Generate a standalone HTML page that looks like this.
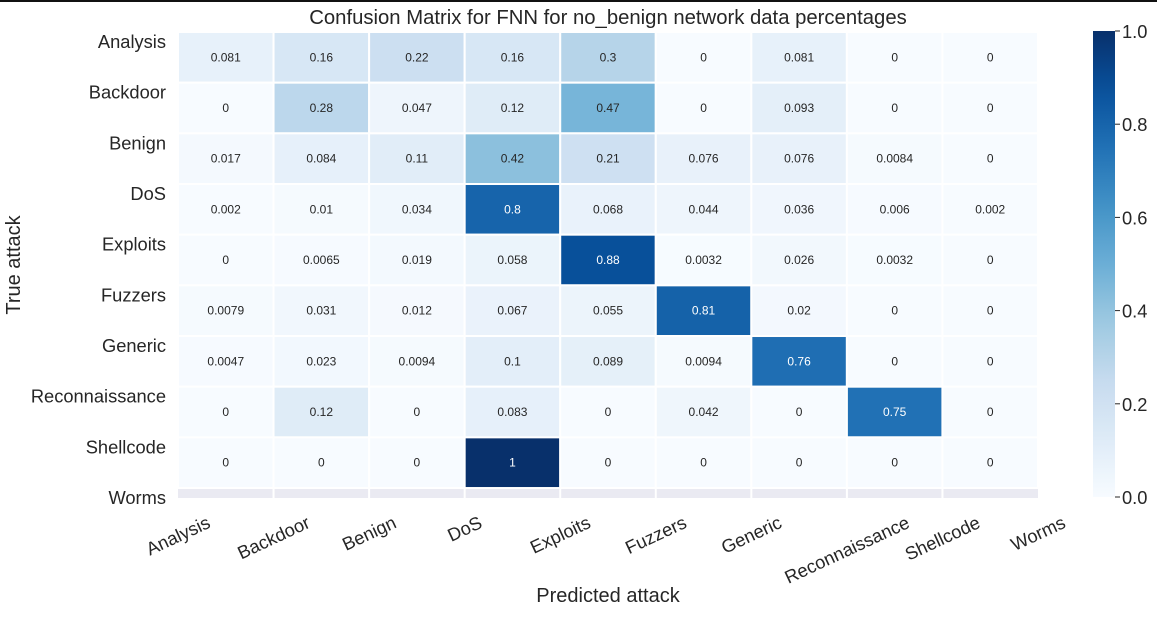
<!DOCTYPE html>
<html><head><meta charset="utf-8"><style>
body{margin:0;background:#fff;font-family:"Liberation Sans",Arial,sans-serif}
svg text{font-family:"Liberation Sans",Arial,sans-serif}
</style></head><body>
<svg id="c" width="1157" height="612">
<rect x="0" y="0" width="1157" height="2" fill="#111"/>
</svg>
<script>
const labels=["Analysis","Backdoor","Benign","DoS","Exploits","Fuzzers","Generic","Reconnaissance","Shellcode","Worms"];
const cellText=[
["0.081","0.16","0.22","0.16","0.3","0","0.081","0","0"],
["0","0.28","0.047","0.12","0.47","0","0.093","0","0"],
["0.017","0.084","0.11","0.42","0.21","0.076","0.076","0.0084","0"],
["0.002","0.01","0.034","0.8","0.068","0.044","0.036","0.006","0.002"],
["0","0.0065","0.019","0.058","0.88","0.0032","0.026","0.0032","0"],
["0.0079","0.031","0.012","0.067","0.055","0.81","0.02","0","0"],
["0.0047","0.023","0.0094","0.1","0.089","0.0094","0.76","0","0"],
["0","0.12","0","0.083","0","0.042","0","0.75","0"],
["0","0","0","1","0","0","0","0","0"]];
const cbTicks=["0.0","0.2","0.4","0.6","0.8","1.0"];
const NS="http://www.w3.org/2000/svg";
const svg=document.getElementById('c');
function el(t,a,p){const e=document.createElementNS(NS,t);for(const k in a)e.setAttribute(k,a[k]);(p||svg).appendChild(e);return e;}
const stops=[[247,251,255],[222,235,247],[198,219,239],[158,202,225],[107,174,214],[66,146,198],[33,113,181],[8,81,156],[8,48,107]];
function blue(v){v=Math.max(0,Math.min(1,v));const f=v*8,i=Math.min(7,Math.floor(f)),t=f-i;const a=stops[i],b=stops[i+1];return `rgb(${a.map((c,k)=>Math.round(c+(b[k]-c)*t)).join(',')})`;}
const L=178,T=32,R=1038,B=498,nC=9,cw=(R-L)/nC,ch=50.67;
const xs=i=>L+i*cw, ys=i=>T+i*ch;
let r=el('rect',{x:L,y:T,width:R-L,height:B-T,fill:'#eaeaf2'});

cellText.forEach((row,i)=>row.forEach((s,j)=>{
 const v=parseFloat(s);
 const c=el('rect',{x:xs(j),y:ys(i),width:cw,height:ch,fill:blue(v),stroke:'#fff','stroke-width':2});
 
 
 const t=el('text',{x:xs(j)+cw/2,y:ys(i)+ch/2+4,'text-anchor':'middle','font-size':12,fill:v>0.5?'#fff':'#262626'});
 t.textContent=s;
 
 
}));
for(let j=1;j<nC;j++){const l=el('line',{x1:xs(j),x2:xs(j),y1:ys(9),y2:B,stroke:'#fff','stroke-width':2});}
const ang=25*Math.PI/180, fs=18.3;
labels.forEach((s,i)=>{
 const t=el('text',{x:166,y:42+i*50.67+6,'text-anchor':'end','font-size':fs,fill:'#262626'});
 t.textContent=s;
 
 
 const u=el('text',{'text-anchor':'middle','font-size':fs,fill:'#262626'});
 u.textContent=s;
 
 
 const w=u.getComputedTextLength();
 const h=w*Math.sin(ang)+fs*1.1*Math.cos(ang);
 const cx=xs(i), cy=512+h/2;
 u.setAttribute('x',cx);u.setAttribute('y',cy+fs*0.35);
 u.setAttribute('transform',`rotate(-25 ${cx} ${cy})`);
});
let tt=el('text',{x:608,y:24,'text-anchor':'middle','font-size':20.3,fill:'#262626'});tt.textContent='Confusion Matrix for FNN for no_benign network data percentages';

let xt=el('text',{x:608,y:602,'text-anchor':'middle','font-size':20,fill:'#262626'});xt.textContent='Predicted attack';

let yt=el('text',{x:20,y:265,'text-anchor':'middle','font-size':20,fill:'#262626',transform:'rotate(-90 20 265)'});yt.textContent='True attack';

const cbX=1093,cbW=22,cbT=31,cbB=497;
const defs=el('defs',{});const g=el('linearGradient',{id:'gb',x1:0,y1:1,x2:0,y2:0},defs);
for(let k=0;k<=20;k++)el('stop',{offset:k/20,'stop-color':blue(k/20)},g);
let cb=el('rect',{x:cbX,y:cbT,width:cbW,height:cbB-cbT,fill:'url(#gb)'});

cbTicks.forEach(s=>{
 const y=cbB-parseFloat(s)*(cbB-cbT);
 el('line',{x1:cbX+cbW,x2:cbX+cbW+5,y1:y,y2:y,stroke:'#262626','stroke-width':1});
 const t=el('text',{x:cbX+cbW+7,y:y+7,'font-size':fs,fill:'#262626'});t.textContent=s;
 
});
</script>
</body></html>
